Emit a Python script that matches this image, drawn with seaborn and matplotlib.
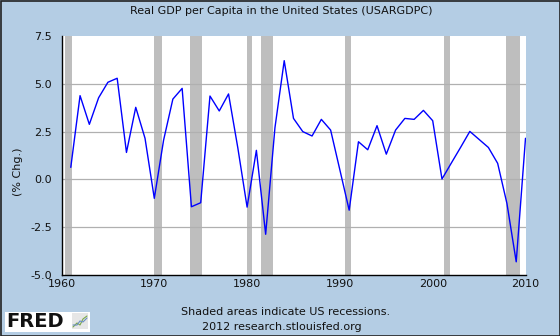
import matplotlib
matplotlib.use("Agg")
import matplotlib.pyplot as plt
import seaborn as sns
import pandas as pd
from matplotlib.patches import Rectangle

years = list(range(1961, 2011))
pct_change = [0.63, 4.38, 2.88, 4.27, 5.08, 5.29, 1.41, 3.77, 2.15, -0.99,
              2.05, 4.20, 4.76, -1.43, -1.22, 4.36, 3.58, 4.47, 1.65, -1.45,
              1.52, -2.87, 2.70, 6.21, 3.19, 2.50, 2.27, 3.14, 2.58, 0.49,
              -1.61, 1.97, 1.55, 2.81, 1.32, 2.58, 3.19, 3.14, 3.61, 3.07,
              0.02, 0.85, 1.67, 2.51, 2.09, 1.67, 0.84, -1.26, -4.31, 2.15]

rec_start = [1960.33, 1969.92, 1973.83, 1980.0, 1981.5, 1990.5, 2001.17, 2007.92]
rec_end = [1961.08, 1970.83, 1975.17, 1980.5, 1982.83, 1991.17, 2001.83, 2009.42]

yticks = [-5.0, -2.5, 0.0, 2.5, 5.0, 7.5]
xticks = [1960, 1970, 1980, 1990, 2000, 2010]

title = "Real GDP per Capita in the United States (USARGDPC)"
ylabel = "(% Chg.)"
note1 = "Shaded areas indicate US recessions."
note2 = "2012 research.stlouisfed.org"

bg = "#b4cde4"
sns.set_style("white")
plt.rcParams['font.family'] = ['DejaVu Sans']

fig = plt.figure(figsize=(5.6, 3.36), dpi=100, facecolor=bg)
ax = fig.add_axes([61.5/560, 1 - 275/336, (525.5 - 61.5)/560, (275 - 36)/336])
ax.set_facecolor("white")

for s, e in zip(rec_start, rec_end):
    ax.axvspan(s, e, color="#bebebe", lw=0, zorder=1)

for y in yticks[1:-1]:
    ax.axhline(y, color="#b0b0b0", lw=0.9, zorder=1.5)

df = pd.DataFrame({"year": years, "value": pct_change})
sns.lineplot(data=df, x="year", y="value", ax=ax, color="#0000ff", lw=1.0, zorder=3)

fs = 8.0
ax.set_xlim(1960, 2010)
ax.set_ylim(-5.0, 7.5)
ax.set_xticks(xticks)
ax.set_xticklabels([str(t) for t in xticks], fontsize=fs, color="#111111")
ax.set_yticks(yticks)
ax.set_yticklabels([f"{t:.1f}" for t in yticks], fontsize=fs, color="#111111")
ax.tick_params(axis="x", direction="in", length=5, width=1, color="black", pad=3)
ax.tick_params(axis="y", direction="out", length=3, width=1, color="black", pad=4)
ax.set_xlabel("")
ax.set_ylabel("")
for side in ["top", "right"]:
    ax.spines[side].set_visible(False)
for side in ["left", "bottom"]:
    ax.spines[side].set_visible(True)
    ax.spines[side].set_color("black")
    ax.spines[side].set_linewidth(1.0)
ax.grid(False)

fig.text(281/560, 1 - 11/336, title, ha="center", va="center", fontsize=fs, color="#111111")
fig.text(18/560, 1 - 172/336, ylabel, ha="center", va="center", rotation=90, fontsize=fs, color="#111111")
fig.text(286/560, 1 - 312/336, note1, ha="center", va="center", fontsize=fs, color="#111111")
fig.text(282/560, 1 - 327/336, note2, ha="center", va="center", fontsize=fs, color="#111111")

# FRED logo
fig.patches.append(Rectangle((5/560, 1 - 332/336), 85/560, 20/336, transform=fig.transFigure,
                             facecolor="white", edgecolor="none"))
fig.text(6/560, 1 - 321.5/336, "FRED", ha="left", va="center", fontsize=14,
         fontweight="heavy", color="#111111")
fig.patches.append(Rectangle((72/560, 1 - 329/336), 16/560, 16/336, transform=fig.transFigure,
                             facecolor="#e6e6e6", edgecolor="none"))
fig.lines.append(plt.Line2D([73/560, 77/560, 80/560, 83/560, 87/560],
                            [1 - 327/336, 1 - 323/336, 1 - 325/336, 1 - 319/336, 1 - 316/336],
                            transform=fig.transFigure, color="#7aa84a", lw=0.8))
fig.lines.append(plt.Line2D([73/560, 77/560, 80/560, 83/560, 87/560],
                            [1 - 325/336, 1 - 325/336, 1 - 321/336, 1 - 322/336, 1 - 318/336],
                            transform=fig.transFigure, color="#6a8fc0", lw=0.8))

# outer border
fig.patches.append(Rectangle((0.5/560, 0.5/336), 559/560, 335/336, transform=fig.transFigure,
                             facecolor="none", edgecolor="#222222", lw=1.2))

fig.savefig("out.png", dpi=100, facecolor=bg)
